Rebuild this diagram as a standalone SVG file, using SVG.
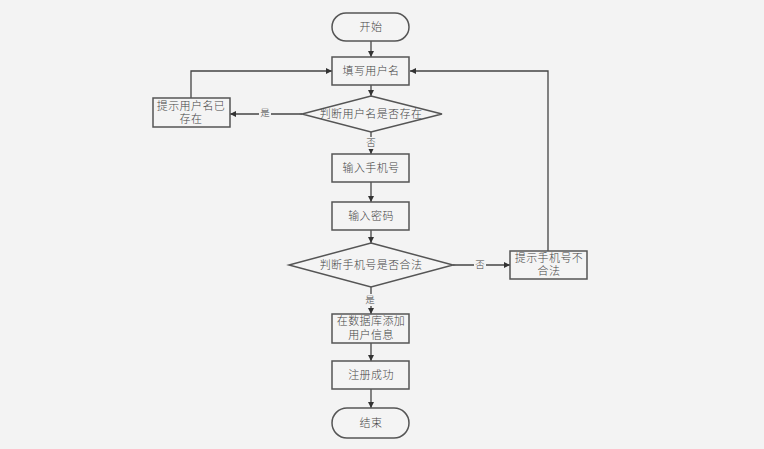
<svg xmlns="http://www.w3.org/2000/svg" width="764" height="449" viewBox="0 0 764 449">
<defs>
<marker id="ah" viewBox="0 0 10 10" refX="10" refY="5" markerWidth="6" markerHeight="6" markerUnits="userSpaceOnUse" orient="auto">
<path d="M0,0 L10,5 L0,10 z" fill="#333"/>
</marker>
<style>
.n{fill:#f4f4f4;stroke:#555;stroke-width:1.5}
.t{font-family:"Liberation Serif","Noto Sans CJK SC",serif;font-size:11px;font-weight:300;fill:#444;text-anchor:middle;dominant-baseline:central;letter-spacing:0.4px}
.l{font-family:"Liberation Serif","Noto Sans CJK SC",serif;font-size:9.5px;font-weight:300;fill:#444;text-anchor:middle;dominant-baseline:central}
.c{fill:none;stroke:#444;stroke-width:1.3;marker-end:url(#ah)}
.lb{fill:#f3f3f3}
</style>
</defs>
<rect width="764" height="449" fill="#f3f3f3"/>
<g id="connectors">
<path class="c" d="M371,41 V57"/>
<path class="c" d="M371,85 V96"/>
<path class="c" d="M302,114 H230"/>
<path class="c" d="M191,98 V71 H332"/>
<path class="c" d="M371,132 V154"/>
<path class="c" d="M371,182 V202"/>
<path class="c" d="M371,230 V243"/>
<path class="c" d="M453,265 H510"/>
<path class="c" d="M548,251 V71 H410"/>
<path class="c" d="M371,287 V314"/>
<path class="c" d="M371,343 V361"/>
<path class="c" d="M371,389 V408"/>
<rect class="lb" x="259" y="107" width="12" height="13"/>
<text class="l" x="265" y="113">是</text>
<rect class="lb" x="365" y="137" width="12" height="12"/>
<text class="l" x="371" y="143">否</text>
<rect class="lb" x="474" y="259" width="12" height="12"/>
<text class="l" x="480" y="265">否</text>
<rect class="lb" x="365" y="294" width="12" height="12"/>
<text class="l" x="370" y="300">是</text>
</g>
<g id="start">
<rect class="n" x="332" y="13" width="77" height="28" rx="14"/>
<text class="t" x="371" y="27">开始</text>
</g>
<g id="fill-username">
<rect class="n" x="332" y="57" width="77" height="28"/>
<text class="t" x="371" y="71">填写用户名</text>
</g>
<g id="check-username">
<polygon class="n" points="371,96 442,114 371,132 302,114"/>
<text class="t" x="371" y="114">判断用户名是否存在</text>
</g>
<g id="username-exists">
<rect class="n" x="153" y="98" width="77" height="29"/>
<text class="t" x="191" y="106">提示用户名已</text>
<text class="t" x="191" y="119">存在</text>
</g>
<g id="input-phone">
<rect class="n" x="332" y="154" width="77" height="28"/>
<text class="t" x="371" y="168">输入手机号</text>
</g>
<g id="input-password">
<rect class="n" x="332" y="202" width="77" height="28"/>
<text class="t" x="371" y="216">输入密码</text>
</g>
<g id="check-phone">
<polygon class="n" points="371,243 453,265 371,287 289,265"/>
<text class="t" x="371" y="265">判断手机号是否合法</text>
</g>
<g id="phone-invalid">
<rect class="n" x="510" y="251" width="77" height="28"/>
<text class="t" x="549" y="258">提示手机号不</text>
<text class="t" x="549" y="271">合法</text>
</g>
<g id="add-user">
<rect class="n" x="332" y="314" width="77" height="29"/>
<text class="t" x="371" y="321">在数据库添加</text>
<text class="t" x="371" y="335">用户信息</text>
</g>
<g id="success">
<rect class="n" x="332" y="361" width="77" height="28"/>
<text class="t" x="371" y="375">注册成功</text>
</g>
<g id="end">
<rect class="n" x="332" y="408" width="77" height="30" rx="15"/>
<text class="t" x="371" y="423">结束</text>
</g>
</svg>
